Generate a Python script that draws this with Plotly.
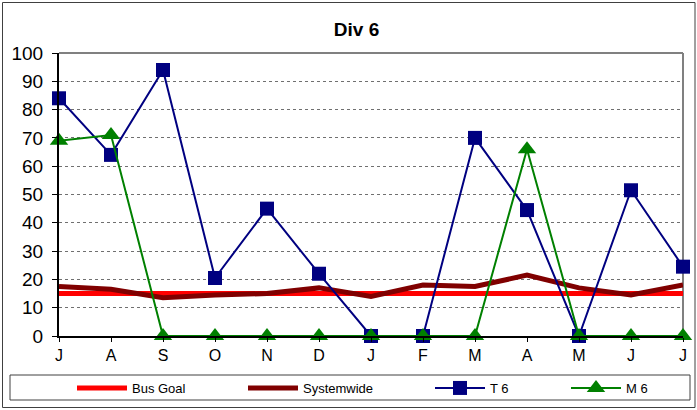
import plotly.graph_objects as go

months = ["J", "A", "S", "O", "N", "D", "J", "F", "M", "A", "M", "J", "J"]
bus_goal = [15] * 13
systemwide = [17.5, 16.5, 13.5, 14.5, 15, 17, 14, 18, 17.5, 21.5, 17, 14.5, 18]
t6 = [84, 64, 94, 20.5, 45, 22, 0, 0, 70, 44.5, 0, 51.5, 24.5]
m6 = [69, 71, 0, 0, 0, 0, 0, 0, 0, 66, 0, 0, 0]
yticks = [0, 10, 20, 30, 40, 50, 60, 70, 80, 90, 100]

x = list(range(len(months)))
PL, PR, PT, PB = 59, 683, 53, 336
W, H = PR - PL, PB - PT

def px_x(p):
    return (p - PL) / W

def px_y(p):
    return (PB - p) / H

fig = go.Figure()
fig.add_trace(go.Scatter(x=x, y=bus_goal, name="Bus Goal", mode="lines",
                         line=dict(color="#ff0000", width=5), cliponaxis=False,
                         legend="legend"))
fig.add_trace(go.Scatter(x=x, y=systemwide, name="Systemwide", mode="lines",
                         line=dict(color="#800000", width=5), cliponaxis=False,
                         legend="legend2"))
fig.add_trace(go.Scatter(x=x, y=t6, name="T 6", mode="lines+markers",
                         line=dict(color="#000080", width=2),
                         marker=dict(symbol="square", size=14, color="#000080"),
                         cliponaxis=False, legend="legend3"))
fig.add_trace(go.Scatter(x=x, y=m6, name="M 6", mode="lines+markers",
                         line=dict(color="#008000", width=2),
                         marker=dict(symbol="triangle-up", size=16, color="#008000"),
                         cliponaxis=False, legend="legend4"))

leg_common = dict(orientation="h", xanchor="left", yanchor="middle",
                  y=px_y(388), itemwidth=50,
                  font=dict(size=13, family="Liberation Sans, Arial"),
                  bgcolor="rgba(0,0,0,0)", borderwidth=0)
fig.update_layout(
    width=697, height=410,
    margin=dict(l=PL, r=697 - PR, t=PT, b=410 - PB, autoexpand=False),
    paper_bgcolor="white", plot_bgcolor="white",
    font=dict(family="Liberation Sans, Arial", color="black"),
    title=dict(text="<b>Div 6</b>", x=px_x(356.5), xref="paper", xanchor="center",
               y=1 - 29 / 410, yref="container", yanchor="middle",
               font=dict(size=19)),
    showlegend=True,
    legend=dict(x=px_x(72), **leg_common),
    legend2=dict(x=px_x(243), **leg_common),
    legend3=dict(x=px_x(430), **leg_common),
    legend4=dict(x=px_x(566), **leg_common),
)
fig.update_xaxes(range=[0, 12], tickvals=x, ticktext=months, showgrid=False,
                 showline=True, linecolor="black", linewidth=2,
                 ticks="outside", ticklen=4, tickcolor="black",
                 tickfont=dict(size=16), zeroline=False, fixedrange=True,
                 automargin=False)
fig.update_yaxes(range=[0, 100], tickvals=yticks, showgrid=True,
                 gridcolor="#707070", griddash="dot", gridwidth=1,
                 showline=True, linecolor="black", linewidth=2,
                 ticks="outside", ticklen=5, tickcolor="black",
                 ticklabelstandoff=5,
                 tickfont=dict(size=19), zeroline=False, fixedrange=True,
                 automargin=False)

# plot area top/right border (gray)
fig.add_shape(type="line", xref="paper", yref="paper", x0=0, x1=1, y0=1, y1=1,
              line=dict(color="#808080", width=2))
fig.add_shape(type="line", xref="paper", yref="paper", x0=1, x1=1, y0=0, y1=1,
              line=dict(color="#808080", width=2), layer="below")
# legend box
fig.add_shape(type="rect", xref="paper", yref="paper",
              x0=px_x(10), x1=px_x(690), y0=px_y(400), y1=px_y(375),
              line=dict(color="#404040", width=1))
# outer frame
fig.add_shape(type="rect", xref="paper", yref="paper",
              x0=px_x(2.5), x1=px_x(695), y0=px_y(407.5), y1=px_y(2.5),
              line=dict(color="#404040", width=1))

fig.write_html("out.html", config={"displayModeBar": False},
               post_script="document.body.style.margin='0';document.body.style.padding='0';")
